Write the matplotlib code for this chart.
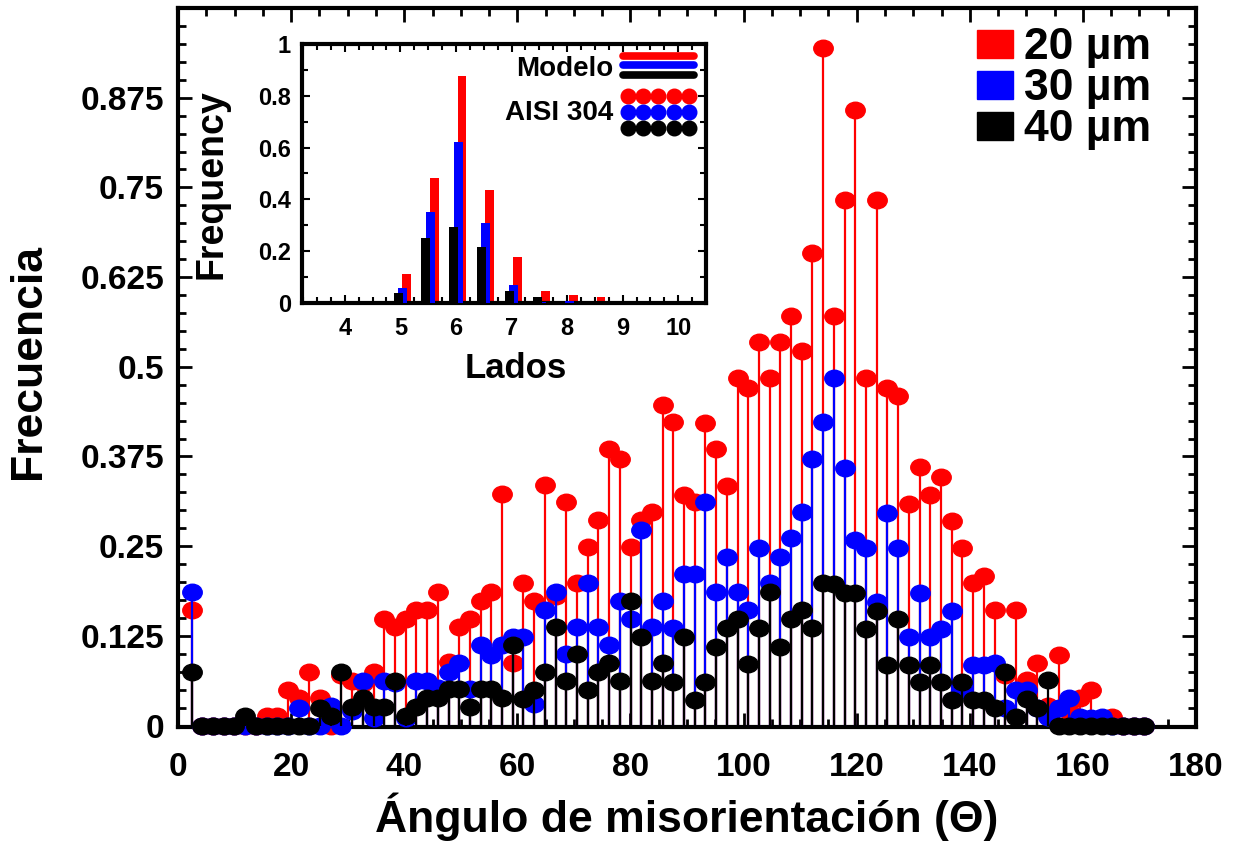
import numpy as np
import matplotlib
matplotlib.use("Agg")
import matplotlib.pyplot as plt
from matplotlib.patches import Patch
from matplotlib.lines import Line2D
from matplotlib.path import Path
from matplotlib.ticker import MultipleLocator, FixedLocator

plt.rcParams['font.family'] = ['Liberation Sans', 'DejaVu Sans']
plt.rcParams['font.weight'] = 'bold'

# misorientation histogram, 90 bins
angles = np.round(2.4 + 1.893 * np.arange(90), 2)

freq_20 = [0.161, 0, 0, 0, 0, 0, 0, 0.013, 0.013, 0.05,
           0.039, 0.074, 0.039, 0, 0.07, 0.062, 0.06, 0.075, 0.148, 0.137,
           0.148, 0.161, 0.161, 0.186, 0.089, 0.137, 0.148, 0.174, 0.186, 0.323,
           0.087, 0.199, 0.174, 0.335, 0.18, 0.311, 0.199, 0.249, 0.286, 0.385,
           0.372, 0.249, 0.286, 0.298, 0.447, 0.423, 0.322, 0.311, 0.422, 0.385,
           0.334, 0.484, 0.471, 0.534, 0.484, 0.534, 0.571, 0.522, 0.658, 0.944,
           0.571, 0.733, 0.858, 0.484, 0.733, 0.471, 0.459, 0.309, 0.360, 0.322,
           0.347, 0.285, 0.248, 0.198, 0.209, 0.161, 0.07, 0.161, 0.063, 0.087,
           0.027, 0.099, 0.02, 0.038, 0.049, 0.01, 0.012, 0, 0, 0]

freq_30 = [0.186, 0, 0, 0, 0, 0, 0, 0, 0, 0,
           0.025, 0, 0, 0.027, 0, 0.02, 0.062, 0.011, 0.062, 0.06,
           0.01, 0.062, 0.062, 0.052, 0.075, 0.087, 0.051, 0.112, 0.099, 0.112,
           0.124, 0.124, 0.03, 0.161, 0.186, 0.1, 0.137, 0.199, 0.137, 0.112,
           0.174, 0.149, 0.273, 0.137, 0.174, 0.136, 0.211, 0.211, 0.311, 0.186,
           0.235, 0.186, 0.161, 0.248, 0.199, 0.235, 0.261, 0.298, 0.372, 0.423,
           0.484, 0.359, 0.259, 0.248, 0.172, 0.296, 0.248, 0.123, 0.185, 0.123,
           0.135, 0.160, 0.05, 0.085, 0.085, 0.087, 0.025, 0.049, 0.05, 0.025,
           0.012, 0.025, 0.038, 0.012, 0.01, 0.012, 0, 0, 0, 0]

freq_40 = [0.074, 0, 0, 0, 0, 0.013, 0, 0, 0, 0,
           0, 0, 0.025, 0.013, 0.074, 0.026, 0.039, 0.026, 0.026, 0.062,
           0.013, 0.026, 0.039, 0.039, 0.051, 0.051, 0.026, 0.051, 0.051, 0.039,
           0.112, 0.037, 0.050, 0.075, 0.137, 0.062, 0.1, 0.050, 0.075, 0.087,
           0.062, 0.174, 0.124, 0.062, 0.087, 0.061, 0.123, 0.036, 0.061, 0.110,
           0.136, 0.148, 0.086, 0.136, 0.186, 0.110, 0.148, 0.161, 0.136, 0.199,
           0.197, 0.185, 0.185, 0.134, 0.160, 0.085, 0.148, 0.085, 0.061, 0.085,
           0.061, 0.036, 0.061, 0.036, 0.036, 0.024, 0.074, 0.012, 0.037, 0.025,
           0.063, 0, 0, 0, 0, 0, 0, 0, 0, 0]

# inset: number of sides
lados = np.array([5, 5.5, 6, 6.5, 7, 7.5, 8, 8.5])
sides_40 = [0.039, 0.252, 0.293, 0.218, 0.048, 0.023, 0.0, 0.0]
sides_30 = [0.058, 0.352, 0.622, 0.307, 0.068, 0.005, 0.009, 0.0]
sides_20 = [0.112, 0.481, 0.877, 0.436, 0.177, 0.048, 0.032, 0.023]

# slightly flattened circle marker
circ = Path.unit_circle()
oval = Path(circ.vertices * [1.0, 0.85], circ.codes)

fig = plt.figure(figsize=(12.36, 8.43), dpi=100)
W, H = 1236, 843
ax = fig.add_axes([178 / W, (H - 727) / H, (1196 - 178) / W, (727 - 8) / H])

series = [(freq_20, 'red'), (freq_30, 'blue'), (freq_40, 'black')]
z = 2
for vals, col in series:
    ax.vlines(angles, 0, vals, color=col, lw=1.6, zorder=z)
    ax.plot(angles, vals, ls='none', marker=oval, color=col, ms=14, mec=col,
            zorder=z + 1, clip_on=False)
    z += 2

ax.set_xlim(0, 180)
ax.set_ylim(-0.002, 1.0)
ax.xaxis.set_major_locator(MultipleLocator(20))
ax.xaxis.set_minor_locator(MultipleLocator(5))
ax.yaxis.set_major_locator(FixedLocator([0, 0.125, 0.25, 0.375, 0.5, 0.625, 0.75, 0.875]))
ax.yaxis.set_minor_locator(MultipleLocator(0.025))
ax.set_yticklabels(['0', '0.125', '0.25', '0.375', '0.5', '0.625', '0.75', '0.875'])
ax.tick_params(which='both', direction='in', top=True, right=True, labelsize=24, width=2)
ax.tick_params(which='major', length=10, pad=10)
ax.tick_params(axis='x', which='major', pad=18)
ax.tick_params(which='minor', length=6)
for s in ax.spines.values():
    s.set_linewidth(3)
ax.set_xlabel('Ángulo de misorientación (Θ)', fontsize=32, fontweight='bold', labelpad=7)
ax.set_ylabel('Frecuencia', fontsize=32, fontweight='bold')
ax.yaxis.set_label_coords(-0.127, 0.508)

handles = [Patch(color=c) for c in ['red', 'blue', 'black']]
ax.legend(handles, ['20 µm', '30 µm', '40 µm'], loc='upper right', frameon=False,
          prop={'size': 32, 'weight': 'bold'}, handlelength=0.8, handleheight=0.6,
          handletextpad=0.25, labelspacing=0.0, borderaxespad=0.2,
          bbox_to_anchor=(0.982, 1.01))

# inset
ins = fig.add_axes([302 / W, (H - 303) / H, (706 - 302) / W, (303 - 44) / H])
bw = 0.16
ins.bar(lados + 0.11, sides_20, bw, color='red', zorder=2)
ins.bar(lados + 0.04, sides_30, bw, color='blue', zorder=3)
ins.bar(lados - 0.04, sides_40, bw, color='black', zorder=4)
ins.set_xlim(3.23, 10.5)
ins.set_ylim(0, 1.0)
ins.xaxis.set_major_locator(MultipleLocator(1))
ins.xaxis.set_minor_locator(MultipleLocator(0.25))
ins.yaxis.set_major_locator(FixedLocator([0, 0.2, 0.4, 0.6, 0.8, 1.0]))
ins.yaxis.set_minor_locator(MultipleLocator(0.1))
ins.set_yticklabels(['0', '0.2', '0.4', '0.6', '0.8', '1'])
ins.tick_params(which='both', direction='in', top=True, right=True, labelsize=17, width=1.5)
ins.tick_params(which='major', length=6, pad=8)
ins.tick_params(axis='x', which='major', pad=10)
ins.tick_params(which='minor', length=4)
for s in ins.spines.values():
    s.set_linewidth(3)
ins.set_xlabel('Lados', fontsize=25, fontweight='bold')
ins.xaxis.set_label_coords(0.53, -0.19)
ins.set_ylabel('Frequency', fontsize=27, fontweight='bold')
ins.yaxis.set_label_coords(-0.18, 0.46)

ins.text(0.77, 0.905, 'Modelo', transform=ins.transAxes, ha='right', va='center',
         fontsize=20, fontweight='bold')
ins.text(0.77, 0.735, 'AISI 304', transform=ins.transAxes, ha='right', va='center',
         fontsize=20, fontweight='bold')
line_y = [0.954, 0.917, 0.880]
dot_y = [0.80, 0.738, 0.675]
dot_x = [0.807, 0.844, 0.881, 0.921, 0.958]
for k, c in enumerate(['red', 'blue', 'black']):
    ins.add_line(Line2D([0.795, 0.97], [line_y[k]] * 2, transform=ins.transAxes,
                        color=c, lw=5.5, solid_capstyle='round'))
    ins.plot(dot_x, [dot_y[k]] * 5, 'o', color=c, ms=10.5,
             transform=ins.transAxes, clip_on=False)

fig.savefig('out.png', dpi=100)
